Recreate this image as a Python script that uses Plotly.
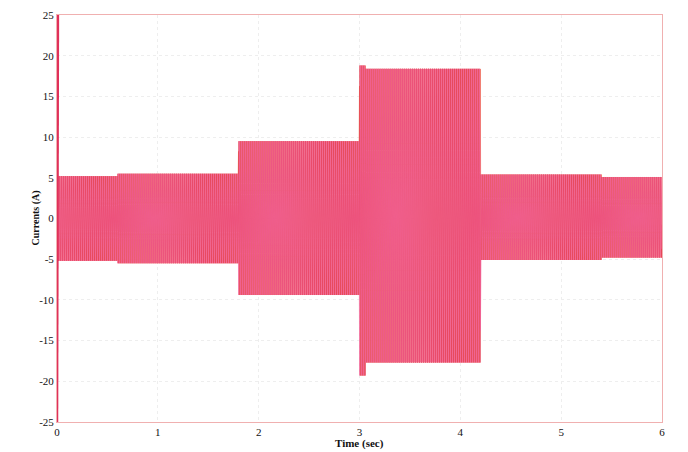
import numpy as np
import plotly.graph_objects as go

# Segment boundaries (sec) and peak current amplitude (A) per segment
seg_start = [0.0, 0.6, 1.8, 3.0, 3.06, 4.2, 5.4]
seg_end   = [0.6, 1.8, 3.0, 3.06, 4.2, 5.4, 6.0]
amp_pos   = [5.2, 5.5, 9.5, 18.8, 18.4, 5.4, 5.1]
amp_neg   = [5.2, 5.5, 9.4, 19.3, 17.7, 5.1, 4.8]
freq_hz = 50
phase_shift_deg = [120, 0, -120]
phase_names = ["Phase C", "Phase A", "Phase B"]
phase_colors = ["#f07a58", "#e63a52", "#f2609a"]
phase_opacity = [0.9, 0.9, 0.75]

# Start-up transient spike at t=0
spike_t = [0.0, 0.003, 0.006, 0.009]
spike_i = [-25, 25, -25, 25]

x_ticks = [0, 1, 2, 3, 4, 5, 6]
y_ticks = [-25, -20, -15, -10, -5, 0, 5, 10, 15, 20, 25]

fs = 2000
t = np.arange(0, 6.0, 1.0 / fs)
ap = np.zeros_like(t)
an = np.zeros_like(t)
for s, e, p, n in zip(seg_start, seg_end, amp_pos, amp_neg):
    m = (t >= s) & (t < e)
    ap[m] = p
    an[m] = n

fig = go.Figure()
for name, ph, col, op in zip(phase_names, phase_shift_deg, phase_colors, phase_opacity):
    w = np.sin(2 * np.pi * freq_hz * t + np.deg2rad(ph))
    y = np.where(w >= 0, ap * w, an * w)
    fig.add_trace(go.Scatter(x=t, y=y, mode="lines", name=name,
                             line=dict(color=col, width=1), opacity=op))
fig.add_trace(go.Scatter(x=spike_t, y=spike_i, mode="lines", name="transient",
                         line=dict(color="#e0305a", width=2.5)))

font_serif = "Liberation Serif"
fig.update_layout(
    width=680, height=444,
    margin=dict(l=49, r=26, t=7, b=30),
    paper_bgcolor="white", plot_bgcolor="white",
    showlegend=False,
    font=dict(family=font_serif, color="#111", size=11),
    annotations=[
        dict(text="<b>Time (sec)</b>", xref="paper", yref="paper", x=0.5, y=0,
             yshift=-21, yanchor="middle", xanchor="center", showarrow=False,
             font=dict(family=font_serif, size=11, color="#111")),
        dict(text="<b>Currents (A)</b>", xref="paper", yref="paper", x=0, y=0.5,
             xshift=-22, xanchor="center", yanchor="middle", textangle=-90, showarrow=False,
             font=dict(family=font_serif, size=10, color="#111")),
    ],
)
fig.update_xaxes(
    range=[0, 6], tickvals=x_ticks, ticktext=[str(v) for v in x_ticks],
    showgrid=True, gridcolor="#eeeeee", griddash="dot", gridwidth=1,
    showline=True, linecolor="#f0b0b0", linewidth=1, mirror=True,
    zeroline=False, ticks="", automargin=False,
    tickfont=dict(family=font_serif, size=11, color="#111"),
)
fig.update_yaxes(
    range=[-25, 25], tickvals=y_ticks, ticktext=[str(v) for v in y_ticks],
    showgrid=True, gridcolor="#eeeeee", griddash="dot", gridwidth=1,
    showline=True, linecolor="#f0b0b0", linewidth=1, mirror=True,
    zeroline=False, ticks="", automargin=False,
    tickfont=dict(family=font_serif, size=11, color="#111"),
)

fig.write_html("out.html")
